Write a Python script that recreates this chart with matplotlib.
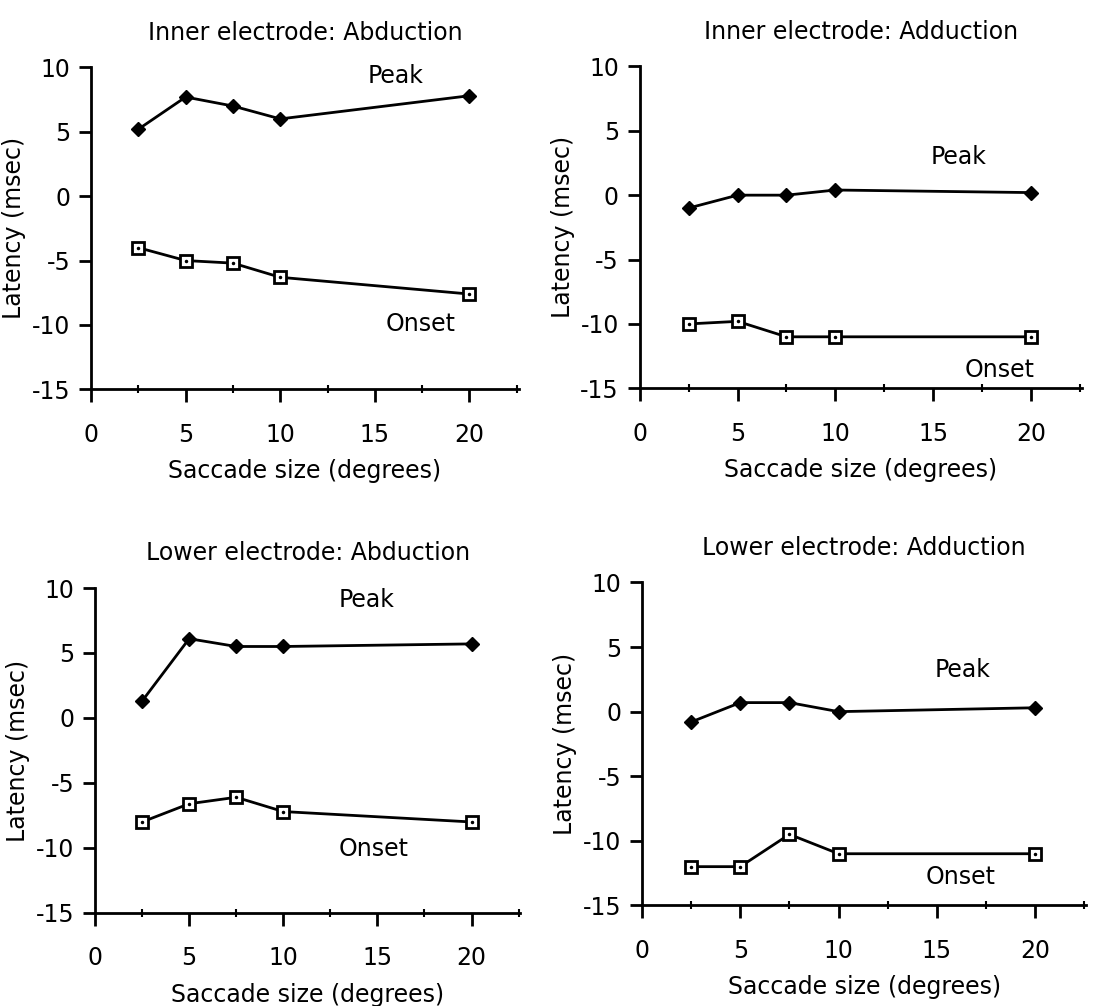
import numpy as np
import matplotlib
matplotlib.use('Agg')
import matplotlib.pyplot as plt
from matplotlib.ticker import MultipleLocator

# saccade sizes (degrees)
sizes = [2.5, 5, 7.5, 10, 20]

titles = ['Inner electrode: Abduction', 'Inner electrode: Adduction',
          'Lower electrode: Abduction', 'Lower electrode: Adduction']

peak_inner_abd = [5.2, 7.7, 7.0, 6.0, 7.8]
onset_inner_abd = [-4.0, -5.0, -5.2, -6.3, -7.6]

peak_inner_add = [-1.0, 0.0, 0.0, 0.4, 0.2]
onset_inner_add = [-10.0, -9.8, -11.0, -11.0, -11.0]

peak_lower_abd = [1.3, 6.1, 5.5, 5.5, 5.7]
onset_lower_abd = [-8.0, -6.6, -6.1, -7.2, -8.0]

peak_lower_add = [-0.8, 0.7, 0.7, 0.0, 0.3]
onset_lower_add = [-12.0, -12.0, -9.5, -11.0, -11.0]

peaks = [peak_inner_abd, peak_inner_add, peak_lower_abd, peak_lower_add]
onsets = [onset_inner_abd, onset_inner_add, onset_lower_abd, onset_lower_add]

# label positions (data coords)
peak_pos = [(16.1, 9.3), (16.3, 3.0), (14.4, 9.1), (16.3, 3.2)]
onset_pos = [(17.4, -9.9), (18.4, -13.6), (14.8, -10.1), (16.2, -12.8)]

plt.rcParams['font.family'] = 'DejaVu Sans'
plt.rcParams['axes.unicode_minus'] = False

fig = plt.figure(figsize=(11.05, 10.06), dpi=100)
rects = [[0.0824, 0.613, 0.387, 0.320],
         [0.579, 0.614, 0.400, 0.320],
         [0.086, 0.0925, 0.385, 0.323],
         [0.581, 0.100, 0.402, 0.321]]

for i in range(4):
    ax = fig.add_axes(rects[i])
    ax.plot(sizes, peaks[i], color='black', lw=2, marker='D', ms=7,
            mfc='black', mec='black')
    ax.plot(sizes, onsets[i], color='black', lw=2, marker='s', ms=9,
            mfc='white', mec='black', mew=2)
    ax.plot(sizes, onsets[i], ls='none', marker='.', ms=3, color='black')

    ax.set_xlim(0, 22.6)
    ax.set_ylim(-15, 10)
    ax.set_xticks([0, 5, 10, 15, 20])
    ax.set_yticks([-15, -10, -5, 0, 5, 10])
    ax.xaxis.set_minor_locator(MultipleLocator(2.5))
    ax.tick_params(which='major', direction='out', length=9, width=2,
                   labelsize=17, pad=6)
    ax.tick_params(axis='x', which='major', pad=15)
    ax.tick_params(which='minor', direction='inout', length=6, width=1.5)
    for s in ['top', 'right']:
        ax.spines[s].set_visible(False)
    for s in ['left', 'bottom']:
        ax.spines[s].set_linewidth(2)

    ax.set_title(titles[i], fontsize=17, pad=20)
    ax.set_xlabel('Saccade size (degrees)', fontsize=17, labelpad=9)
    ax.set_ylabel('Latency (msec)', fontsize=17, labelpad=4)

    ax.text(peak_pos[i][0], peak_pos[i][1], 'Peak', fontsize=17,
            ha='center', va='center')
    ax.text(onset_pos[i][0], onset_pos[i][1], 'Onset', fontsize=17,
            ha='center', va='center')

plt.savefig('out.png', dpi=100)
